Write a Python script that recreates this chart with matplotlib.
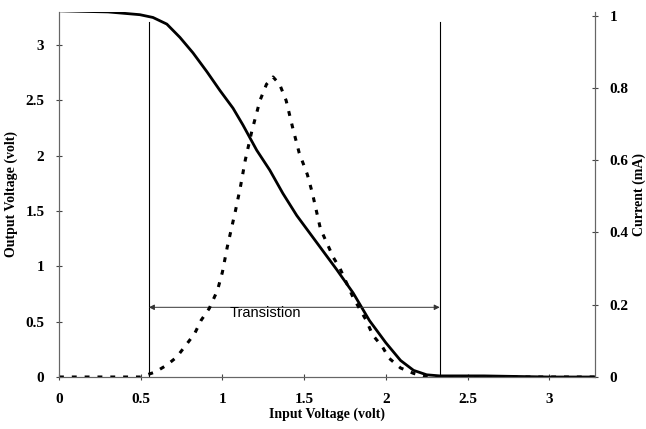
import matplotlib
matplotlib.use("Agg")
import matplotlib.pyplot as plt

# output voltage of the inverter (solid)
vin_out = [0.0, 0.3, 0.495, 0.575, 0.66, 0.74, 0.82, 0.905, 0.985, 1.065, 1.125,
           1.21, 1.29, 1.37, 1.455, 1.60, 1.70, 1.80, 1.90, 2.00, 2.09, 2.17,
           2.25, 2.33, 2.6, 3.0, 3.28]
vout = [3.31, 3.30, 3.275, 3.25, 3.19, 3.07, 2.93, 2.76, 2.59, 2.43, 2.28,
        2.05, 1.87, 1.66, 1.46, 1.17, 0.97, 0.76, 0.51, 0.31, 0.15, 0.06,
        0.02, 0.01, 0.01, 0.0, 0.0]

# supply current (dashed)
vin_cur = [0.0, 0.3, 0.5, 0.59, 0.66, 0.72, 0.78, 0.83, 0.87, 0.92, 0.97, 1.00,
           1.03, 1.08, 1.11, 1.14, 1.18, 1.23, 1.27, 1.31, 1.35, 1.39, 1.43,
           1.47, 1.52, 1.55, 1.58, 1.60, 1.68, 1.72, 1.80, 1.88, 1.92, 1.98,
           2.02, 2.09, 2.17, 2.25, 2.5, 3.0, 3.28]
current = [0.0, 0.0, 0.0, 0.014, 0.033, 0.055, 0.09, 0.12, 0.157, 0.19, 0.24, 0.29,
           0.36, 0.46, 0.525, 0.60, 0.68, 0.765, 0.81, 0.83, 0.81, 0.765, 0.69,
           0.62, 0.56, 0.51, 0.45, 0.41, 0.33, 0.30, 0.22, 0.157, 0.116, 0.083,
           0.052, 0.025, 0.01, 0.0, 0.0, 0.0, 0.0]

x_ticks = [0, 0.5, 1, 1.5, 2, 2.5, 3]
x_labels = ['0', '0.5', '1', '1.5', '2', '2.5', '3']
y_ticks = [0, 0.5, 1, 1.5, 2, 2.5, 3]
y_labels = ['0', '0.5', '1', '1.5', '2', '2.5', '3']
i_ticks = [0, 0.2, 0.4, 0.6, 0.8, 1]
i_labels = ['0', '0.2', '0.4', '0.6', '0.8', '1']

v_low, v_high = 0.55, 2.33

serif = ['Liberation Serif', 'DejaVu Serif']

fig = plt.figure(figsize=(6.46, 4.29), dpi=100)
ax = fig.add_axes([0.0913, 0.1212, 0.8297, 0.851])
ax2 = ax.twinx()

ax.plot(vin_out, vout, color='black', lw=2.0, solid_capstyle='round',
        solid_joinstyle='round')
ax2.plot(vin_cur, current, color='black', lw=2.2, linestyle=(0, (1.6, 2.6)))

# transition window
for v in (v_low, v_high):
    ax.plot([v, v], [0, 3.21], color='black', lw=0.8)
ax.annotate('', xy=(v_low, 0.63), xytext=(v_high, 0.63),
            arrowprops=dict(arrowstyle='<|-|>', color='#333333', lw=0.7,
                            mutation_scale=8, shrinkA=0, shrinkB=0))
ax.text(1.26, 0.575, 'Transistion', ha='center', va='center', fontsize=10.5,
        family=['Liberation Sans', 'DejaVu Sans'])

ax.set_xlim(0, 3.28)
ax.set_ylim(0, 3.3)
ax2.set_ylim(0, 1.01)

ax.set_xticks(x_ticks)
ax.set_xticklabels(x_labels)
ax.set_yticks(y_ticks)
ax.set_yticklabels(y_labels)
ax2.set_yticks(i_ticks)
ax2.set_yticklabels(i_labels)

for a in (ax, ax2):
    a.spines['top'].set_visible(False)
    for s in ('left', 'right', 'bottom'):
        a.spines[s].set_color('#666666')
        a.spines[s].set_linewidth(0.8)
    a.tick_params(direction='inout', length=5, width=0.8, color='#444444',
                  pad=8, labelsize=11)
    for lab in a.get_xticklabels() + a.get_yticklabels():
        lab.set_fontfamily(serif)
        lab.set_fontweight('bold')
ax.tick_params(axis='x', pad=9)

ax.set_xlabel('Input Voltage (volt)', fontsize=10, fontweight='bold',
              family=serif, labelpad=1)
ax.set_ylabel('Output Voltage (volt)', fontsize=10, fontweight='bold',
              family=serif, labelpad=5)
ax2.set_ylabel('Current (mA)', fontsize=10, fontweight='bold',
               family=serif, labelpad=3)

fig.savefig('out.png', dpi=100)
